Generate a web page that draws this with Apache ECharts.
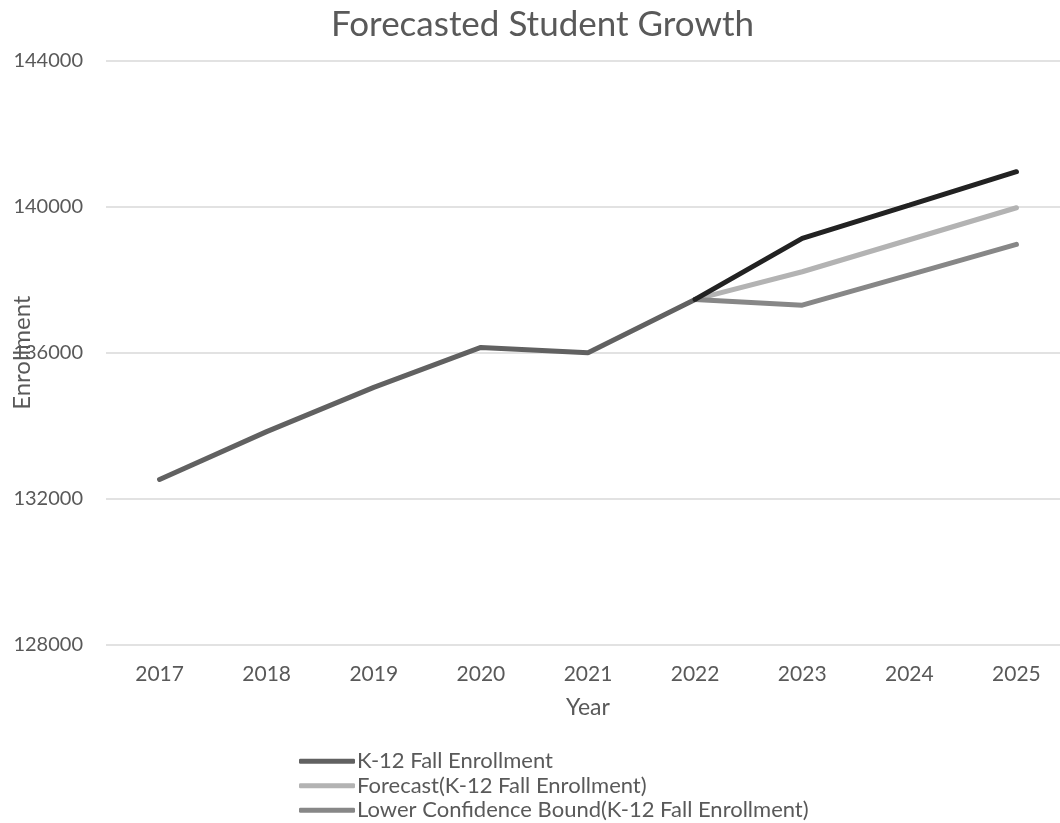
<!DOCTYPE html>
<html><head><meta charset="utf-8">
<script src="https://cdn.jsdelivr.net/npm/echarts@6/dist/echarts.min.js"></script>
<style>html,body{margin:0;padding:0;background:#fff}#c{width:1060px;height:823px}</style>
</head><body><div id="c"></div>
<script>
const years = ['2017','2018','2019','2020','2021','2022','2023','2024','2025'];
const enrollment = [132531, 133839, 135050, 136145, 135997, 137459, null, null, null];
const forecast = [null, null, null, null, null, 137459, 138215, 139091, 139967];
const lowerBound = [null, null, null, null, null, 137459, 137300, 138132, 138965];
const upperBound = [null, null, null, null, null, 137459, 139130, 140040, 140954];
const yTicks = [128000, 132000, 136000, 140000, 144000];

const font = 'Lato, "Open Sans", sans-serif';
const chart = echarts.init(document.getElementById('c'));
chart.setOption({
  animation: false,
  title: { text: 'Forecasted Student Growth', left: 326, top: 2,
    textStyle: { fontFamily: font, fontSize: 35, fontWeight: 'normal', color: '#595959' } },
  grid: { left: 106, right: -10, top: 60.4, bottom: 823 - 645, outerBoundsMode: 'none', containLabel: false },
  xAxis: { type: 'category', data: years, boundaryGap: true,
    name: 'Year', nameLocation: 'middle', nameGap: 51, nameMoveOverlap: false,
    nameTextStyle: { fontFamily: font, fontSize: 23, color: '#595959' },
    axisLine: { show: false }, axisTick: { show: false },
    axisLabel: { fontFamily: font, fontSize: 21, color: '#595959', margin: 19 } },
  yAxis: { type: 'value', min: yTicks[0], max: yTicks[yTicks.length - 1], interval: 4000,
    name: 'Enrollment', nameLocation: 'middle', nameGap: 72, nameRotate: 90, nameMoveOverlap: false,
    nameTextStyle: { fontFamily: font, fontSize: 24, color: '#595959' },
    axisLine: { show: false }, axisTick: { show: false },
    axisLabel: { fontFamily: font, fontSize: 20, color: '#595959', margin: 23, formatter: v => String(v) },
    splitLine: { lineStyle: { color: '#d9d9d9', width: 1.5 } } },
  legend: { orient: 'vertical', left: 299, top: 749, height: 74, padding: 0, itemGap: 0, itemWidth: 56, itemHeight: 5,
    icon: 'roundRect',
    data: ['K-12 Fall Enrollment', 'Forecast(K-12 Fall Enrollment)', 'Lower Confidence Bound(K-12 Fall Enrollment)'],
    textStyle: { fontFamily: font, fontSize: 22, color: '#595959', padding: [0, 0, 0, -3], lineHeight: 24.5 } },
  series: [
    { name: 'K-12 Fall Enrollment', type: 'line', data: enrollment, symbol: 'none',
      itemStyle: { color: '#616161' }, lineStyle: { width: 5, color: '#616161', cap: 'round' }, z: 4 },
    { name: 'Forecast(K-12 Fall Enrollment)', type: 'line', data: forecast, symbol: 'none',
      itemStyle: { color: '#b3b3b3' }, lineStyle: { width: 5, color: '#b3b3b3', cap: 'round' }, z: 2 },
    { name: 'Lower Confidence Bound(K-12 Fall Enrollment)', type: 'line', data: lowerBound, symbol: 'none',
      itemStyle: { color: '#878787' }, lineStyle: { width: 5, color: '#878787', cap: 'round' }, z: 3 },
    { name: 'Upper Confidence Bound(K-12 Fall Enrollment)', type: 'line', data: upperBound, symbol: 'none',
      itemStyle: { color: '#222222' }, lineStyle: { width: 5, color: '#222222', cap: 'round' }, z: 5 }
  ]
});
</script></body></html>
